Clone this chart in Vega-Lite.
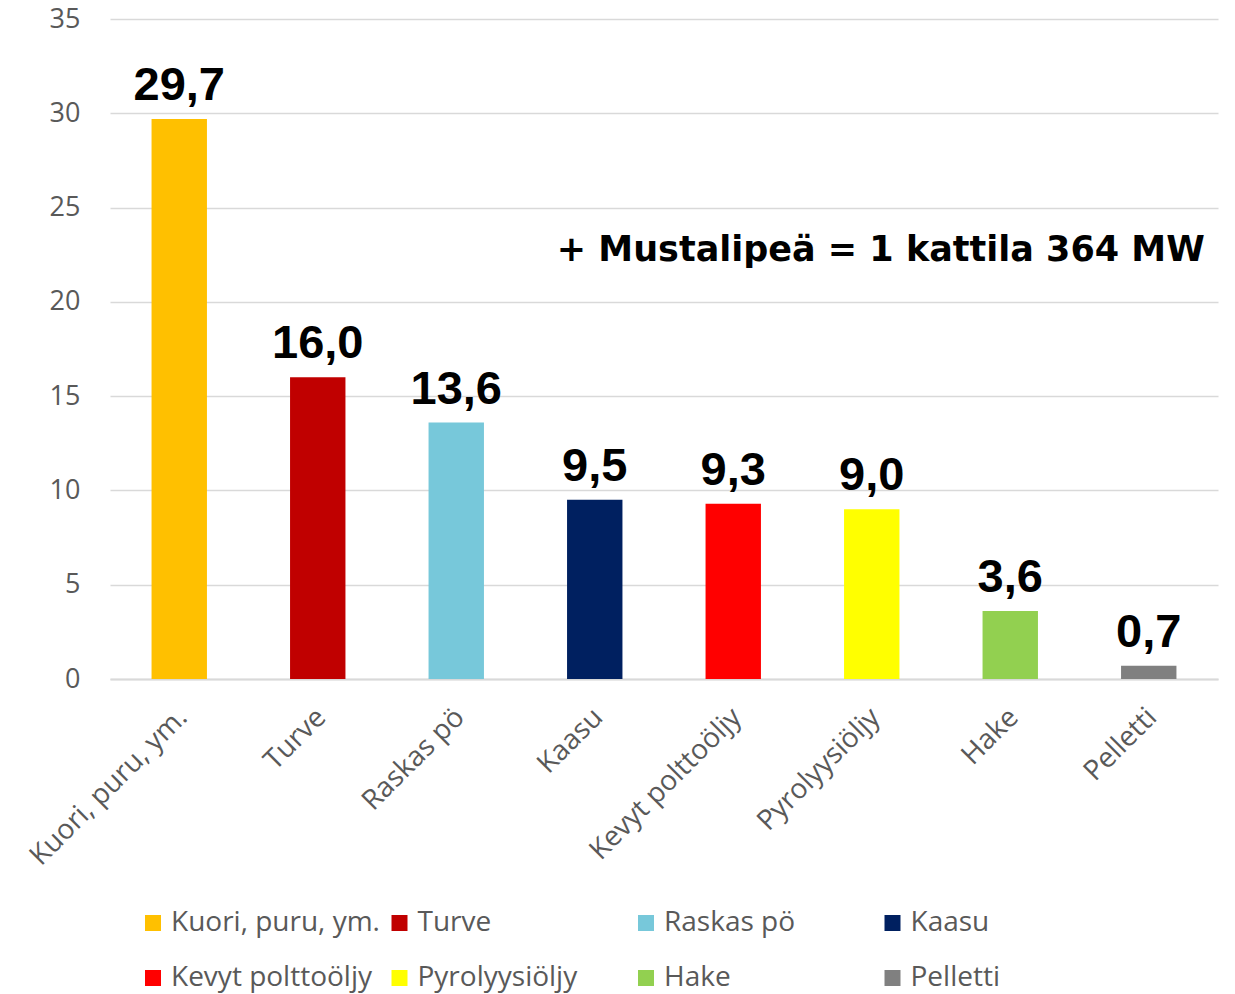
{
  "$schema": "https://vega.github.io/schema/vega-lite/v6.json",
  "width": 1108,
  "height": 660,
  "autosize": {"type": "none"},
  "padding": {"left": 110, "top": 19, "right": 17, "bottom": 315},
  "background": "white",
  "config": {
    "view": {"stroke": null},
    "locale": {"number": {"decimal": ",", "thousands": " ", "grouping": [3], "currency": ["", " €"]}}
  },
  "data": {
    "values": [
      {"cat": "Kuori, puru, ym.", "val": 29.7},
      {"cat": "Turve", "val": 16.0},
      {"cat": "Raskas pö", "val": 13.6},
      {"cat": "Kaasu", "val": 9.5},
      {"cat": "Kevyt polttoöljy", "val": 9.3},
      {"cat": "Pyrolyysiöljy", "val": 9.0},
      {"cat": "Hake", "val": 3.6},
      {"cat": "Pelletti", "val": 0.7}
    ]
  },
  "encoding": {
    "x": {
      "field": "cat", "type": "nominal", "sort": null,
      "scale": {"paddingInner": 0.6, "paddingOuter": 0.3},
      "axis": {
        "title": null, "labelAngle": -45, "labelFont": "Open Sans", "labelFontSize": 28,
        "labelColor": "#595959", "labelPadding": 24, "labelOffset": -6, "ticks": false,
        "domainColor": "#d9d9d9", "domainWidth": 2, "labelLimit": 400
      }
    },
    "y": {
      "field": "val", "type": "quantitative",
      "scale": {"domain": [0, 35], "nice": false},
      "axis": {
        "title": null, "values": [0, 5, 10, 15, 20, 25, 30, 35], "labelFont": "Open Sans",
        "labelFontSize": 27, "labelColor": "#595959", "labelPadding": 30, "ticks": false,
        "domain": false, "gridColor": "#d9d9d9", "gridWidth": 1.5
      }
    }
  },
  "layer": [
    {
      "mark": {"type": "bar"},
      "encoding": {
        "color": {
          "field": "cat", "type": "nominal", "sort": null,
          "scale": {
            "domain": ["Kuori, puru, ym.", "Turve", "Raskas pö", "Kaasu", "Kevyt polttoöljy", "Pyrolyysiöljy", "Hake", "Pelletti"],
            "range": ["#FFC000", "#C00000", "#77C8DA", "#002060", "#FF0000", "#FFFF00", "#92D050", "#808080"]
          },
          "legend": {
            "title": null, "orient": "none", "legendX": 29, "legendY": 890, "direction": "horizontal",
            "columns": 4, "gridAlign": "all", "symbolType": "square", "symbolSize": 256,
            "symbolStrokeWidth": 0, "labelFont": "Open Sans", "labelFontSize": 28,
            "labelColor": "#595959", "labelOffset": 4, "columnPadding": 5.5, "rowPadding": 27,
            "labelLimit": 400
          }
        }
      }
    },
    {
      "mark": {"type": "text", "font": "Liberation Sans", "fontWeight": "bold", "fontSize": 47, "dy": -19, "baseline": "alphabetic", "color": "black"},
      "encoding": {"text": {"field": "val", "type": "quantitative", "format": ".1f"}}
    },
    {
      "data": {"values": [{"cat": "Pelletti", "val": 22.75, "note": "+ Mustalipeä = 1 kattila 364 MW"}]},
      "mark": {"type": "text", "font": "DejaVu Sans", "fontWeight": "bold", "fontSize": 35, "align": "right", "baseline": "middle", "dx": 56, "color": "black"},
      "encoding": {"text": {"field": "note"}}
    }
  ]
}
